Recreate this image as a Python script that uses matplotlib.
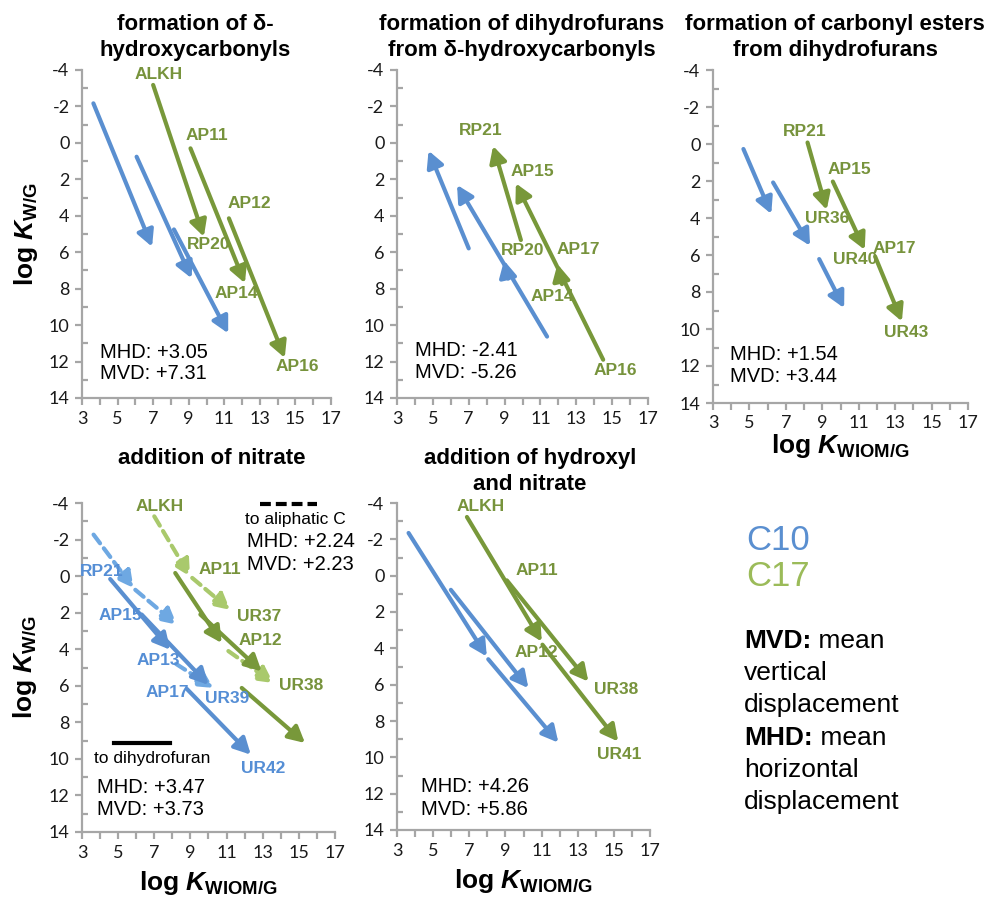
import matplotlib.pyplot as plt
from matplotlib.ticker import MultipleLocator, FixedLocator

plt.rcParams['font.family'] = ['Lato', 'DejaVu Sans']
plt.rcParams['axes.unicode_minus'] = False
plt.rcParams['mathtext.fontset'] = 'custom'
plt.rcParams['mathtext.rm'] = 'Liberation Sans:bold'
plt.rcParams['mathtext.it'] = 'Liberation Sans:bold:italic'
plt.rcParams['mathtext.bf'] = 'Liberation Sans:bold'

# colours
BLUE = '#5a8fd0'
BLUE_LIGHT = '#6ea8e2'
GREEN = '#78983a'
GREEN_LIGHT = '#a9c96c'
BLUE_TXT = '#558ed5'
GREEN_TXT = '#77933c'

# ---- data: arrows as (x_start, y_start, x_end, y_end) in log K_WIOM/G, log K_W/G ----
# panel 1: formation of delta-hydroxycarbonyls
p1_c10 = [(3.64, -2.17, 6.94, 5.70), (6.07, 0.76, 9.16, 7.43), (8.17, 4.75, 11.22, 10.45)]
p1_c17 = [(7.00, -3.18, 9.85, 5.15), (9.10, 0.30, 12.16, 7.70), (11.26, 4.14, 14.40, 11.80)]
p1_labels = [('ALKH', 7.33, -3.78), ('AP11', 10.0, -0.43), ('AP12', 12.4, 3.3),
             ('RP20', 10.1, 5.55), ('AP14', 11.7, 8.25), ('AP16', 15.1, 12.25)]
p1_stats = ['MHD: +3.05', 'MVD: +7.31']

# panel 2: formation of dihydrofurans from delta-hydroxycarbonyls
p2_c10 = [(7.00, 5.79, 4.76, 0.43), (11.37, 10.63, 6.35, 2.31), (9.20, 7.45, 8.97, 6.45)]
p2_c17 = [(9.91, 5.33, 8.36, 0.17), (14.50, 11.90, 9.63, 2.22), (12.20, 7.75, 11.95, 6.65)]
p2_labels = [('RP21', 7.66, -0.67), ('AP15', 10.53, 1.58), ('RP20', 10.0, 5.92),
             ('AP17', 13.13, 5.85), ('AP14', 11.69, 8.44), ('AP16', 15.19, 12.47)]
p2_stats = ['MHD: -2.41', 'MVD: -5.26']

# panel 3: formation of carbonyl esters from dihydrofurans
p3_c10 = [(4.67, 0.27, 6.20, 3.78), (6.30, 2.08, 8.33, 5.50), (8.83, 6.22, 10.20, 8.87)]
p3_c17 = [(8.19, -0.08, 9.24, 3.56), (9.58, 2.03, 11.33, 5.72), (11.90, 6.08, 13.37, 9.59)]
p3_labels = [('RP21', 8.06, -0.67), ('AP15', 10.47, 1.36), ('UR36', 9.24, 4.05),
             ('AP17', 12.97, 5.63), ('UR40', 10.78, 6.22), ('UR43', 13.6, 10.18)]
p3_stats = ['MHD: +1.54', 'MVD: +3.44']

# panel 4: addition of nitrate (dashed: to aliphatic C, solid: to dihydrofuran)
p4_c10_dash = [(3.64, -2.27, 5.85, 0.65), (5.95, 0.75, 8.25, 2.66), (8.20, 4.80, 10.27, 6.12)]
p4_c10_solid = [(4.56, 0.16, 7.88, 4.03), (6.30, 2.10, 10.00, 5.95), (8.80, 6.17, 12.34, 9.77)]
p4_c17_dash = [(7.00, -3.27, 8.98, 0.02), (9.10, 0.10, 11.20, 1.85), (11.10, 4.10, 13.59, 5.85)]
p4_c17_solid = [(8.16, -0.17, 10.73, 3.66), (9.55, 2.10, 12.94, 5.21), (11.84, 6.12, 15.34, 9.13)]
p4_labels_c17 = [('ALKH', 7.29, -3.81), ('AP11', 10.64, -0.35), ('UR37', 12.81, 2.2),
                 ('AP12', 12.85, 3.52), ('UR38', 15.15, 5.99)]
p4_labels_c10 = [('RP21', 4.1, -0.26), ('AP15', 5.12, 2.17), ('AP13', 7.23, 4.61),
                 ('AP17', 7.7, 6.39), ('UR39', 11.05, 6.67), ('UR42', 13.0, 10.55)]
p4_stats_solid = ['MHD: +3.47', 'MVD: +3.73']
p4_stats_dash = ['MHD: +2.24', 'MVD: +2.23']

# panel 5: addition of hydroxyl and nitrate
p5_c10 = [(3.64, -2.35, 7.97, 4.45), (8.05, 4.60, 11.93, 9.19), (5.98, 0.78, 10.27, 6.19)]
p5_c17 = [(6.87, -3.23, 11.01, 3.63), (11.05, 3.80, 15.24, 9.13), (9.08, 0.26, 13.59, 5.83)]
p5_labels = [('ALKH', 7.6, -3.78), ('AP11', 10.73, -0.29), ('AP12', 10.73, 4.23),
             ('UR38', 15.15, 6.25), ('UR41', 15.3, 9.87)]
p5_stats = ['MHD: +4.26', 'MVD: +5.86']

titles = ['formation of \u03b4-\nhydroxycarbonyls',
          'formation of dihydrofurans\nfrom \u03b4-hydroxycarbonyls',
          'formation of carbonyl esters\nfrom dihydrofurans',
          'addition of nitrate',
          'addition of hydroxyl\nand nitrate']

x_ticks = [3, 5, 7, 9, 11, 13, 15, 17]

W, H = 990, 899
fig = plt.figure(figsize=(9.9, 8.99), dpi=100)


def px_axes(left, top, right, bottom):
    return fig.add_axes([left / W, 1 - bottom / H, (right - left) / W, (bottom - top) / H])


def style_axes(ax):
    ax.set_xlim(3, 17)
    ax.set_ylim(14, -4)
    for s in ['top', 'right']:
        ax.spines[s].set_visible(False)
    for s in ['left', 'bottom']:
        ax.spines[s].set_color('#a6a6a6')
        ax.spines[s].set_linewidth(1.6)
    ax.xaxis.set_major_locator(FixedLocator(x_ticks))
    ax.xaxis.set_minor_locator(MultipleLocator(1))
    ax.yaxis.set_major_locator(MultipleLocator(2))
    ax.yaxis.set_minor_locator(MultipleLocator(1))
    ax.tick_params(which='major', direction='out', length=5, width=1.6, color='#a6a6a6',
                   labelsize=13, labelcolor='#1a1a1a', pad=4)
    ax.tick_params(axis='x', which='minor', direction='out', length=5, width=1.6, color='#a6a6a6')
    ax.tick_params(axis='y', which='minor', direction='in', length=4, width=1.6, color='#a6a6a6')


def draw_arrows(ax, arrows, color, dashed=False):
    for x0, y0, x1, y1 in arrows:
        ax.annotate('', xy=(x1, y1), xytext=(x0, y0),
                    arrowprops=dict(arrowstyle='-|>,head_length=0.65,head_width=0.34',
                                    mutation_scale=15, lw=3, color=color,
                                    linestyle=(0, (2.6, 1.5)) if dashed else '-',
                                    shrinkA=0, shrinkB=0, capstyle='round'))


def draw_labels(ax, labels, color):
    for txt, x, y in labels:
        ax.text(x, y, txt, color=color, fontsize=12.5, fontweight='bold',
                family='Liberation Sans', ha='center', va='center')


def draw_stats(ax, stats, x, y0, y1):
    ax.text(x, y0, stats[0], fontsize=14.5, family='Liberation Sans', ha='left', va='center')
    ax.text(x, y1, stats[1], fontsize=14.5, family='Liberation Sans', ha='left', va='center')


ax1 = px_axes(82, 70, 331, 398)
ax2 = px_axes(397, 70, 648, 398)
ax3 = px_axes(713, 70, 968, 403)
ax4 = px_axes(82, 503, 335, 832)
ax5 = px_axes(397, 503, 650, 830)
for ax in [ax1, ax2, ax3, ax4, ax5]:
    style_axes(ax)

# panel 1
draw_arrows(ax1, p1_c10, BLUE)
draw_arrows(ax1, p1_c17, GREEN)
draw_labels(ax1, p1_labels, GREEN_TXT)
draw_stats(ax1, p1_stats, 4.0, 11.5, 12.65)

# panel 2
draw_arrows(ax2, p2_c10, BLUE)
draw_arrows(ax2, p2_c17, GREEN)
draw_labels(ax2, p2_labels, GREEN_TXT)
draw_stats(ax2, p2_stats, 4.0, 11.37, 12.6)

# panel 3
draw_arrows(ax3, p3_c10, BLUE)
draw_arrows(ax3, p3_c17, GREEN)
draw_labels(ax3, p3_labels, GREEN_TXT)
draw_stats(ax3, p3_stats, 3.93, 11.38, 12.56)

# panel 4
draw_arrows(ax4, p4_c10_dash, BLUE_LIGHT, dashed=True)
draw_arrows(ax4, p4_c17_dash, GREEN_LIGHT, dashed=True)
draw_arrows(ax4, p4_c10_solid, BLUE)
draw_arrows(ax4, p4_c17_solid, GREEN)
draw_labels(ax4, p4_labels_c17, GREEN_TXT)
draw_labels(ax4, p4_labels_c10, BLUE_TXT)
draw_stats(ax4, p4_stats_solid, 3.83, 11.59, 12.78)
draw_stats(ax4, p4_stats_dash, 12.14, -1.9, -0.62)
ax4.plot([12.86, 15.99], [-3.96, -3.96], color='black', lw=3, ls=(0, (2.6, 1.2)), clip_on=False)
ax4.text(14.78, -3.09, 'to aliphatic C', fontsize=12.5, family='Liberation Sans',
         ha='center', va='center')
ax4.plot([4.75, 7.88], [9.13, 9.13], color='black', lw=3, clip_on=False)
ax4.text(6.87, 10.0, 'to dihydrofuran', fontsize=12.5, family='Liberation Sans',
         ha='center', va='center')

# panel 5
draw_arrows(ax5, p5_c10, BLUE)
draw_arrows(ax5, p5_c17, GREEN)
draw_labels(ax5, p5_labels, GREEN_TXT)
draw_stats(ax5, p5_stats, 4.34, 11.6, 12.85)

# titles
title_pos = [(195, 14), (522, 14), (835, 14), (212, 448), (530, 448)]
for t, (tx, ty) in zip(titles, title_pos):
    fig.text(tx / W, 1 - ty / H, t, fontsize=16, fontweight='bold', family='Liberation Sans',
             ha='center', va='top', linespacing=1.3)

# axis labels
ylab = r'log $K_{\mathrm{W/G}}$'
xlab = r'log $K_{\mathrm{WIOM/G}}$'
for ax in [ax1, ax4]:
    ax.set_ylabel(ylab, fontsize=19, fontweight='bold', family='Liberation Sans')
    ax.yaxis.set_label_coords(-0.17, 0.5)
for ax, yc in [(ax3, -0.088), (ax4, -0.112), (ax5, -0.112)]:
    ax.set_xlabel(xlab, fontsize=19, fontweight='bold', family='Liberation Sans')
    ax.xaxis.set_label_coords(0.5, yc)

# legend / explanation area (pixel coordinates of the whole figure)
axl = fig.add_axes([0, 0, 1, 1])
axl.set_xlim(0, W)
axl.set_ylim(H, 0)
axl.axis('off')
axl.text(746, 540, 'C10', color=BLUE, fontsize=25, family='Liberation Sans', va='center')
axl.text(746, 576, 'C17', color='#9bbb59', fontsize=25, family='Liberation Sans', va='center')

desc = [('MVD:', ' mean'), ('', 'vertical'), ('', 'displacement'),
        ('MHD:', ' mean'), ('', 'horizontal'), ('', 'displacement')]
line_y = [641, 673, 705, 738, 770, 802]
for (bold, rest), ly in zip(desc, line_y):
    if bold:
        tb = axl.text(744, ly, bold, fontsize=19, fontweight='bold', family='Liberation Sans',
                      va='center')
        axl.annotate(rest, xy=(1, 0), xycoords=tb, fontsize=19, family='Liberation Sans',
                     va='bottom', ha='left')
    else:
        axl.text(744, ly, rest, fontsize=19, family='Liberation Sans', va='center')

fig.savefig('out.png', dpi=100)
